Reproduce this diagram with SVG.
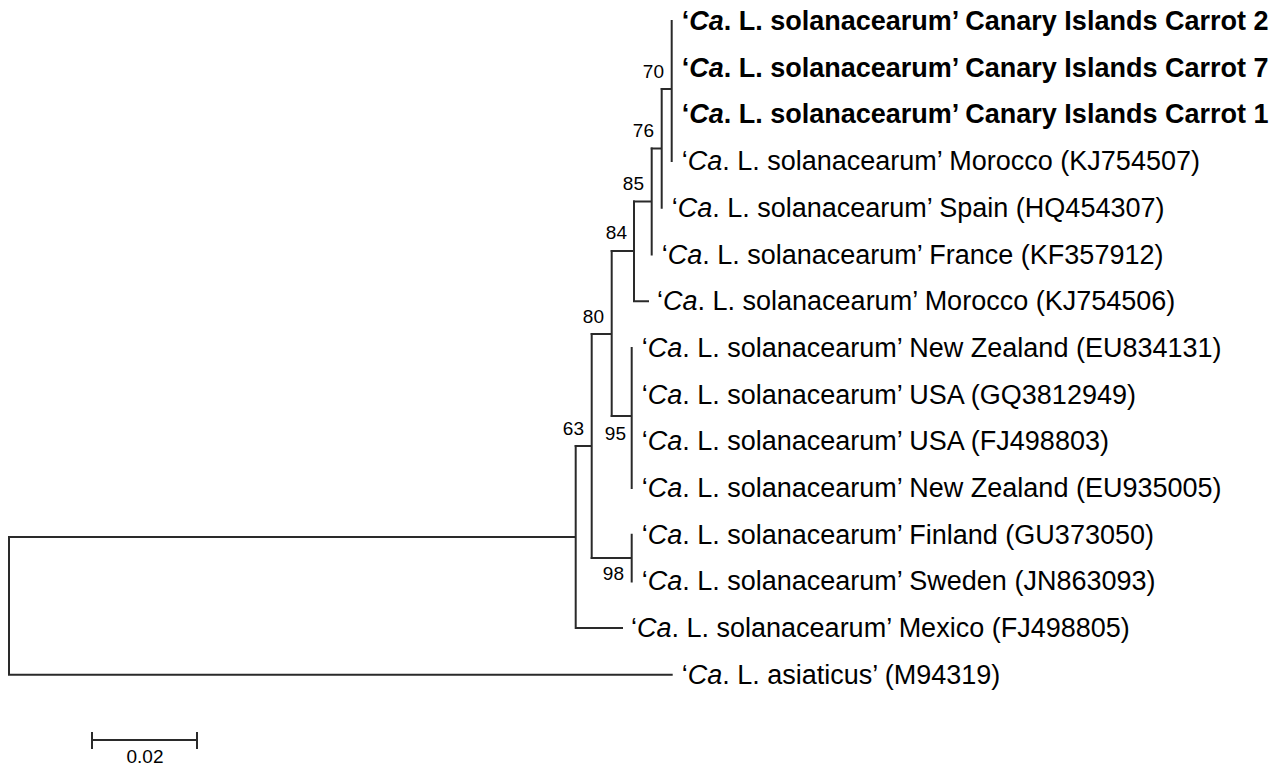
<svg xmlns="http://www.w3.org/2000/svg" width="1280" height="766" viewBox="0 0 1280 766">
<style>
.br{stroke:#2a2a2a;stroke-width:2;fill:none;stroke-linecap:square}
.tip{font-family:"Liberation Sans",Arial,sans-serif;font-size:27px;fill:#000}
.bold{font-weight:bold}
.it{font-style:italic}
.bs{font-family:"Liberation Sans",Arial,sans-serif;font-size:19px;fill:#000;text-anchor:end}
.sc{font-family:"Liberation Sans",Arial,sans-serif;font-size:19px;fill:#000;text-anchor:middle}
</style>
<rect width="1280" height="766" fill="#fff"/>
<g id="connectors">
<path class="br" d="M671.7,21V161.1M661.7,89H671.7"/>
<path class="br" d="M661.7,89V207.8M651.7,148.4H661.7"/>
<path class="br" d="M651.7,148.4V254.5M634,201.5H651.7"/>
<path class="br" d="M634,201.5V301.2H648M611.7,251H634"/>
<path class="br" d="M631.7,347.9V488M611.7,416H631.7"/>
<path class="br" d="M611.7,251V416M591.7,334H611.7"/>
<path class="br" d="M631.7,534.7V581.4M591.7,558H631.7"/>
<path class="br" d="M591.7,334V558M575.7,446H591.7"/>
<path class="br" d="M575.7,446V628.1H622M9,537H575.7"/>
<path class="br" d="M9,537V674.8H671.7"/>
</g>
<g id="support">
<text class="bs" x="664" y="78">70</text>
<text class="bs" x="654" y="137">76</text>
<text class="bs" x="644" y="190">85</text>
<text class="bs" x="627" y="239">84</text>
<text class="bs" x="604" y="323">80</text>
<text class="bs" x="584" y="435">63</text>
<text class="bs" x="626" y="440">95</text>
<text class="bs" x="624" y="580">98</text>
</g>
<g id="tip-carrot2"><text class="tip bold" x="681.7" y="30">‘<tspan class="it">Ca</tspan>. L. solanacearum’ Canary Islands Carrot 2</text></g>
<g id="tip-carrot7"><text class="tip bold" x="681.7" y="76.7">‘<tspan class="it">Ca</tspan>. L. solanacearum’ Canary Islands Carrot 7</text></g>
<g id="tip-carrot1"><text class="tip bold" x="681.7" y="123.4">‘<tspan class="it">Ca</tspan>. L. solanacearum’ Canary Islands Carrot 1</text></g>
<g id="tip-morocco507"><text class="tip" x="681.7" y="170.1">‘<tspan class="it">Ca</tspan>. L. solanacearum’ Morocco (KJ754507)</text></g>
<g id="tip-spain"><text class="tip" x="671.7" y="216.8">‘<tspan class="it">Ca</tspan>. L. solanacearum’ Spain (HQ454307)</text></g>
<g id="tip-france"><text class="tip" x="661.7" y="263.5">‘<tspan class="it">Ca</tspan>. L. solanacearum’ France (KF357912)</text></g>
<g id="tip-morocco506"><text class="tip" x="657" y="310.2">‘<tspan class="it">Ca</tspan>. L. solanacearum’ Morocco (KJ754506)</text></g>
<g id="tip-nz834131"><text class="tip" x="641.7" y="356.9">‘<tspan class="it">Ca</tspan>. L. solanacearum’ New Zealand (EU834131)</text></g>
<g id="tip-usa-gq"><text class="tip" x="641.7" y="403.6">‘<tspan class="it">Ca</tspan>. L. solanacearum’ USA (GQ3812949)</text></g>
<g id="tip-usa-fj"><text class="tip" x="641.7" y="450.3">‘<tspan class="it">Ca</tspan>. L. solanacearum’ USA (FJ498803)</text></g>
<g id="tip-nz935005"><text class="tip" x="641.7" y="497">‘<tspan class="it">Ca</tspan>. L. solanacearum’ New Zealand (EU935005)</text></g>
<g id="tip-finland"><text class="tip" x="641.7" y="543.7">‘<tspan class="it">Ca</tspan>. L. solanacearum’ Finland (GU373050)</text></g>
<g id="tip-sweden"><text class="tip" x="641.7" y="590.4">‘<tspan class="it">Ca</tspan>. L. solanacearum’ Sweden (JN863093)</text></g>
<g id="tip-mexico"><text class="tip" x="631" y="637.1">‘<tspan class="it">Ca</tspan>. L. solanacearum’ Mexico (FJ498805)</text></g>
<g id="tip-asiaticus"><text class="tip" x="681.7" y="683.8">‘<tspan class="it">Ca</tspan>. L. asiaticus’ (M94319)</text></g>
<g id="scale-bar">
<path class="br" d="M92,740H197M92,733V748M197,733V748"/>
<text class="sc" x="145" y="763">0.02</text>
</g>
</svg>
